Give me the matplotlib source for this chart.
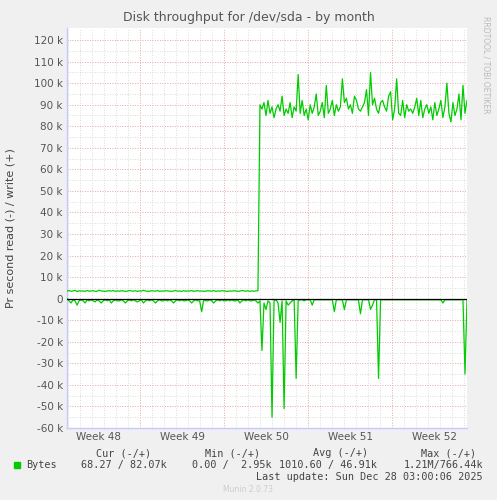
import numpy as np
import matplotlib
matplotlib.use("Agg")
import matplotlib.pyplot as plt

# write (+) in k, one sample per ~2px
write_k = [3.5,3.8,3.4,3.6,3.9,3.3,3.7,3.5,3.6,3.4,3.8,3.5,3.6,3.7,3.4,3.5,3.9,3.6,3.5,3.4,
           3.6,3.7,3.5,3.8,3.4,3.6,3.5,3.7,3.6,3.4,3.5,3.8,3.6,3.5,3.7,3.4,3.6,3.5,3.9,3.6,
           3.5,3.4,3.7,3.6,3.5,3.8,3.4,3.6,3.5,3.7,3.6,3.5,3.4,3.6,3.8,3.5,3.6,3.4,3.7,3.5,
           3.6,3.5,3.8,3.4,3.6,3.7,3.5,3.6,3.4,3.5,3.7,3.6,3.5,3.8,3.4,3.6,3.5,3.7,3.6,3.5,
           3.4,3.6,3.5,3.7,3.6,3.4,3.5,3.8,3.6,3.5,3.7,3.4,3.6,3.5,3.6,3.7,
           90,88,91,85,92,86,89,84,88,90,87,94,85,88,86,91,84,89,87,104,
           86,92,85,88,83,90,86,89,95,85,87,91,84,99,86,88,92,85,90,87,
           89,102,91,93,88,90,86,94,92,88,87,89,91,97,85,105,90,93,88,86,
           91,92,89,87,94,96,83,88,102,86,85,92,84,90,87,88,86,89,93,85,
           92,84,88,90,86,89,83,91,85,88,92,84,89,100,86,82,91,85,88,95,
           83,99,86,92]
# read (-) in k
read_k = [0,-1,-2,-0.5,-1,-3,-1,-0.5,-1,-2,-0.5,-1,-0.5,-1,-1.5,-0.5,-1,-2,-1,-0.5,
          -1,-0.5,-2,-1,-0.5,-1,-1,-0.5,-1,-2,-1,-0.5,-1,-0.5,-1,-1.5,-1,-0.5,-2,-1,
          -0.5,-1,-0.5,-1,-2,-1,-0.5,-1,-1,-0.5,-1,-0.5,-1,-2,-1,-0.5,-1,-0.5,-1,-1,
          -0.5,-1,-2,-1,-0.5,-1,-1,-6,-0.5,-1,-1,-0.5,-1,-2,-1,-0.5,-1,-0.5,-1,-1,
          -0.5,-1,-0.5,-1,-1,-0.5,-2,-1,-0.5,-1,-0.5,-1,-1,-0.5,-1,-2,-1,-24,-2,-5,
          -1,-2,-55,-1,-0.5,-2,-11,-1,-51,-1,-3,-2,-1,-0.5,-37,-1,-0.5,-0.5,-1,-0.5,
          -0.5,-0.5,-3,-0.5,-0.5,-0.5,-0.5,-0.5,-0.5,-0.5,-0.5,-0.5,-0.5,-6,-0.5,-0.5,-0.5,-0.5,-5,-0.5,
          -0.5,-0.5,-0.5,-0.5,-0.5,-0.5,-7,-0.5,-0.5,-0.5,-0.5,-5,-3,-0.5,-0.5,-37,-0.5,-0.5,-0.5,-0.5,
          -0.5,-0.5,-0.5,-0.5,-0.5,-0.5,-0.5,-0.5,-0.5,-0.5,-0.5,-0.5,-0.5,-0.5,-0.5,-0.5,-0.5,-0.5,-0.5,-0.5,
          -0.5,-0.5,-0.5,-0.5,-0.5,-0.5,-0.5,-2,-0.5,-0.5,-0.5,-0.5,-0.5,-0.5,-0.5,-0.5,-0.5,-0.5,-35,-0.5]
week_labels = ["Week 48", "Week 49", "Week 50", "Week 51", "Week 52"]
yticks = list(range(-60, 121, 10))

SPAN = 400 / 12.0  # days shown (12 px per day)
t_w = np.linspace(0, SPAN, len(write_k))
t_r = np.linspace(0, SPAN, len(read_k))

fig = plt.figure(figsize=(4.97, 5.0), dpi=100, facecolor="#F0F0F0")
ax = fig.add_axes([67/497, 72/500, 400/497, 400/500], facecolor="white")
ax.set_xlim(0, SPAN)
ax.set_ylim(-60, 125.6)

week0 = (140 - 67) / 12.0
for d in np.arange(week0 % 1, SPAN, 1.0):
    ax.axvline(d, color="#D0D0D0", lw=0.6, ls=(0, (1, 2)), zorder=0)
for k in range(5):
    ax.axvline(week0 + 7 * k, color="#F0A0A0", lw=0.6, ls=(0, (1, 2)), zorder=0)
for y in np.arange(-55, 125, 5):
    ax.axhline(y, color="#D0D0D0", lw=0.6, ls=(0, (1, 2)), zorder=0)
for y in yticks:
    ax.axhline(y, color="#F0A0A0", lw=0.6, ls=(0, (1, 2)), zorder=0)

ax.plot(t_w, write_k, color="#00CC00", lw=0.9, zorder=3)
ax.plot(t_r, read_k, color="#00CC00", lw=0.9, zorder=3)
ax.axhline(0, color="black", lw=0.9, zorder=4)

ax.set_yticks(yticks)
ax.set_yticklabels([f"{v} k" if v != 0 else "0" for v in yticks])
ax.set_xticks([week0 - 3.5 + 7 * k for k in range(5)])
ax.set_xticklabels(week_labels)
ax.tick_params(length=0, labelsize=7.5, colors="#555555", pad=3)
for s in ax.spines.values():
    s.set_visible(False)
ax.plot([0, SPAN], [-60, -60], color="#C8C8FF", lw=1, clip_on=False)
ax.plot([0, 0], [-60, 125.6], color="#C8C8FF", lw=1, clip_on=False)

fig.text(0.5, 1 - 18/500, "Disk throughput for /dev/sda - by month", ha="center", va="center",
         fontsize=9, color="#555555")
fig.text(0.022, 1 - 228/500, "Pr second read (-) / write (+)", rotation=90, ha="center", va="center",
         fontsize=8, color="#444444")
fig.text(0.978, 0.87, "RRDTOOL / TOBI OETIKER", rotation=270, ha="center", va="center",
         fontsize=5.5, color="#BBBBBB")

mono = dict(family="DejaVu Sans Mono", fontsize=7.3, color="#444444")
fig.patches.append(plt.Rectangle((14/497, 1 - 468/500), 6/497, 6/500, transform=fig.transFigure,
                                 color="#00CC00"))
fig.text(26/497, 1 - 465/500, "Bytes", va="center", **mono)
fig.text(151/497, 1 - 453/500, "Cur (-/+)", ha="right", va="center", **mono)
fig.text(260/497, 1 - 453/500, "Min (-/+)", ha="right", va="center", **mono)
fig.text(368/497, 1 - 453/500, "Avg (-/+)", ha="right", va="center", **mono)
fig.text(476/497, 1 - 453/500, "Max (-/+)", ha="right", va="center", **mono)
fig.text(167/497, 1 - 465/500, "68.27 / 82.07k", ha="right", va="center", **mono)
fig.text(272/497, 1 - 465/500, "0.00 /  2.95k", ha="right", va="center", **mono)
fig.text(377/497, 1 - 465/500, "1010.60 / 46.91k", ha="right", va="center", **mono)
fig.text(483/497, 1 - 465/500, "1.21M/766.44k", ha="right", va="center", **mono)
fig.text(483/497, 1 - 477/500, "Last update: Sun Dec 28 03:00:06 2025", ha="right", va="center", **mono)
fig.text(248/497, 1 - 489/500, "Munin 2.0.73", ha="center", va="center", fontsize=5.5, color="#CCCCCC")

fig.savefig("out.png", dpi=100, facecolor=fig.get_facecolor())
